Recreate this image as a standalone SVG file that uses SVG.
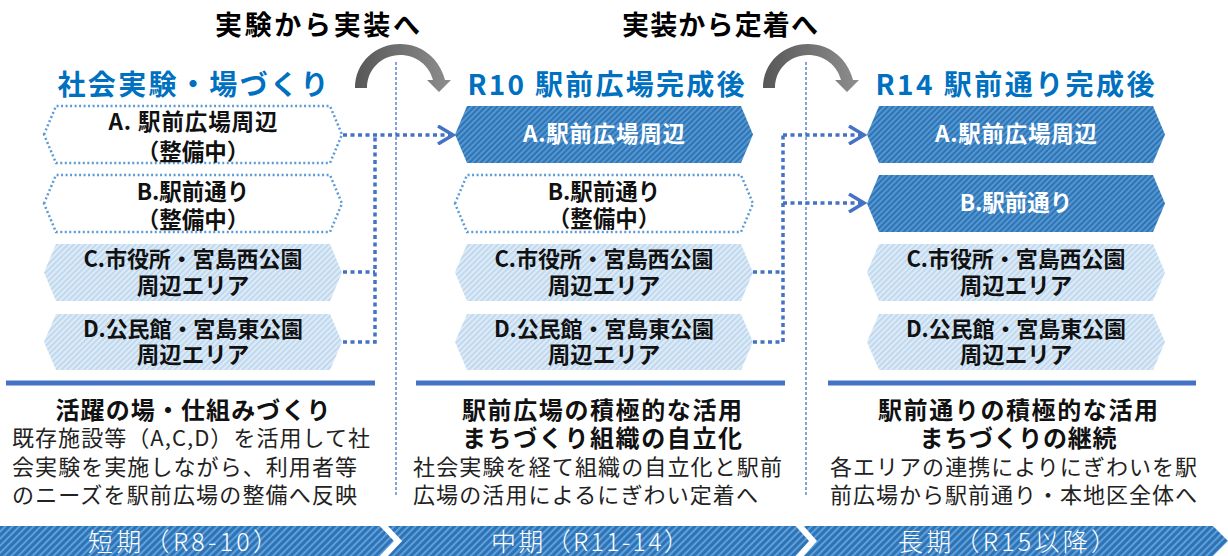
<svg xmlns="http://www.w3.org/2000/svg" width="1228" height="556" viewBox="0 0 1228 556">
<style>
text{font-family:"Noto Sans CJK JP","Noto Sans CJK SC",sans-serif;}
.ttl{font-size:27px;font-weight:700;fill:#000;}
.hd{font-size:28px;font-weight:700;fill:#0070C0;text-anchor:middle;}
.ht{font-size:22.5px;font-weight:700;fill:#111;text-anchor:middle;}
.hc{font-size:22px;font-weight:700;fill:#111;text-anchor:middle;}
.hw{font-size:22.5px;font-weight:700;fill:#fff;text-anchor:middle;}
.bd{font-size:24px;font-weight:700;fill:#111;text-anchor:middle;}
.bt{font-size:22px;font-weight:400;fill:#222;}
.bar{font-size:25px;font-weight:300;fill:#fff;text-anchor:middle;}
.dot{fill:#fff;stroke:#5B9BD5;stroke-width:2.5;stroke-dasharray:2 2.5;}
.dk{fill:url(#dark);}
.lt{fill:url(#light);}
.con{fill:none;stroke:#4472C4;stroke-width:3.5;stroke-dasharray:4 3.5;}
.div{fill:none;stroke:#4472C4;stroke-width:1.3;stroke-dasharray:3 2;}
.rule{stroke:#4472C4;stroke-width:5;}
.garr{fill:url(#gray);}
</style>
<defs>
<pattern id="dark" width="4" height="4" patternUnits="userSpaceOnUse" patternTransform="rotate(45)"><rect width="4" height="4" fill="#2E75B6"/><rect width="1.7" height="4" fill="#5B9BD5"/></pattern>
<pattern id="light" width="4" height="4" patternUnits="userSpaceOnUse" patternTransform="rotate(45)"><rect width="4" height="4" fill="#DEEBF7"/><rect width="1.8" height="4" fill="#BDD7EE"/></pattern>
<pattern id="barp" width="5" height="5" patternUnits="userSpaceOnUse" patternTransform="rotate(45)"><rect width="5" height="5" fill="#2E74B5"/><rect width="2" height="5" fill="#5F9FDB"/></pattern>
<linearGradient id="gray" x1="0" y1="0" x2="1" y2="0"><stop offset="0" stop-color="#575757"/><stop offset="1" stop-color="#8E8E8E"/></linearGradient>
<marker id="chev" viewBox="0 0 20 20" refX="17" refY="10" markerWidth="20" markerHeight="20" markerUnits="userSpaceOnUse" orient="auto"><path d="M2,1 L17,10 L2,19" fill="none" stroke="#4472C4" stroke-width="3.5"/></marker>
</defs>

<g id="titles">
<text class="ttl" x="215" y="35" textLength="205" lengthAdjust="spacing">実験から実装へ</text>
<text class="ttl" x="622" y="35" textLength="196" lengthAdjust="spacing">実装から定着へ</text>
</g>

<g id="transition-arrows">
<path class="garr" d="M355,88 C355,62 376,44 400,44 C423,44 440,60 445,80 L451,80 L439,92 L427,80 L433,80 C429,65 416,55 400,55 C382,55 367,69 367,88 Z"/>
<path class="garr" transform="translate(408,0)" d="M355,88 C355,62 376,44 400,44 C423,44 440,60 445,80 L451,80 L439,92 L427,80 L433,80 C429,65 416,55 400,55 C382,55 367,69 367,88 Z"/>
</g>

<g id="dividers">
<path class="div" d="M396,62 V496"/>
<path class="div" d="M806,62 V496"/>
</g>

<g id="headings">
<text class="hd" x="193" y="95" textLength="271" lengthAdjust="spacing">社会実験・場づくり</text>
<text class="hd" x="606" y="95" textLength="277" lengthAdjust="spacing">R10 駅前広場完成後</text>
<text class="hd" x="1015" y="95" textLength="279" lengthAdjust="spacing">R14 駅前通り完成後</text>
</g>

<g id="col1-A">
<polygon class="dot" points="44,134.5 56,106 330,106 342,134.5 330,163 56,163"/>
<text class="ht" x="193" y="130" textLength="169" lengthAdjust="spacing">A. 駅前広場周辺</text>
<text class="ht" x="193" y="160">（整備中）</text>
</g>
<g id="col1-B">
<polygon class="dot" points="44,203.5 56,175 330,175 342,203.5 330,232 56,232"/>
<text class="ht" x="193" y="200">B.駅前通り</text>
<text class="ht" x="193" y="228">（整備中）</text>
</g>
<g id="col1-C">
<polygon class="lt" points="44,272.5 56,244 330,244 342,272.5 330,301 56,301"/>
<text class="hc" x="193" y="267" textLength="219" lengthAdjust="spacing">C.市役所・宮島西公園</text>
<text class="ht" x="193" y="294">周辺エリア</text>
</g>
<g id="col1-D">
<polygon class="lt" points="44,342 56,314 330,314 342,342 330,370 56,370"/>
<text class="hc" x="193" y="337" textLength="220" lengthAdjust="spacing">D.公民館・宮島東公園</text>
<text class="ht" x="193" y="363">周辺エリア</text>
</g>

<g id="col2-A">
<polygon class="dk" points="455,134.5 467,106 741,106 753,134.5 741,163 467,163"/>
<text class="hw" x="604" y="142" textLength="162" lengthAdjust="spacing">A.駅前広場周辺</text>
</g>
<g id="col2-B">
<polygon class="dot" points="455,203.5 467,175 741,175 753,203.5 741,232 467,232"/>
<text class="ht" x="604" y="200">B.駅前通り</text>
<text class="ht" x="604" y="227">（整備中）</text>
</g>
<g id="col2-C">
<polygon class="lt" points="455,272.5 467,244 741,244 753,272.5 741,301 467,301"/>
<text class="hc" x="604" y="267" textLength="219" lengthAdjust="spacing">C.市役所・宮島西公園</text>
<text class="ht" x="604" y="294">周辺エリア</text>
</g>
<g id="col2-D">
<polygon class="lt" points="455,342 467,314 741,314 753,342 741,370 467,370"/>
<text class="hc" x="604" y="337" textLength="220" lengthAdjust="spacing">D.公民館・宮島東公園</text>
<text class="ht" x="604" y="363">周辺エリア</text>
</g>

<g id="col3-A">
<polygon class="dk" points="867,134.5 879,106 1153,106 1165,134.5 1153,163 879,163"/>
<text class="hw" x="1016" y="142" textLength="162" lengthAdjust="spacing">A.駅前広場周辺</text>
</g>
<g id="col3-B">
<polygon class="dk" points="867,203.5 879,175 1153,175 1165,203.5 1153,232 879,232"/>
<text class="hw" x="1016" y="211">B.駅前通り</text>
</g>
<g id="col3-C">
<polygon class="lt" points="867,272.5 879,244 1153,244 1165,272.5 1153,301 879,301"/>
<text class="hc" x="1016" y="267" textLength="219" lengthAdjust="spacing">C.市役所・宮島西公園</text>
<text class="ht" x="1016" y="294">周辺エリア</text>
</g>
<g id="col3-D">
<polygon class="lt" points="867,342 879,314 1153,314 1165,342 1153,370 879,370"/>
<text class="hc" x="1016" y="337" textLength="220" lengthAdjust="spacing">D.公民館・宮島東公園</text>
<text class="ht" x="1016" y="363">周辺エリア</text>
</g>

<g id="connectors">
<path class="con" d="M343,135 H453" marker-end="url(#chev)"/>
<path class="con" d="M343,272 H375"/>
<path class="con" d="M343,342 H375 V135"/>
<path class="con" d="M783,135 H864" marker-end="url(#chev)"/>
<path class="con" d="M783,203 H864" marker-end="url(#chev)"/>
<path class="con" d="M753,272 H783"/>
<path class="con" d="M753,342 H783 V135"/>
</g>

<g id="rules">
<line class="rule" x1="6" y1="383" x2="375" y2="383"/>
<line class="rule" x1="416" y1="383" x2="785" y2="383"/>
<line class="rule" x1="828" y1="383" x2="1196" y2="383"/>
</g>

<g id="col1-desc">
<text class="bd" x="193" y="419" textLength="275" lengthAdjust="spacing">活躍の場・仕組みづくり</text>
<text class="bt" x="12" y="446" textLength="358" lengthAdjust="spacing">既存施設等（A,C,D）を活用して社</text>
<text class="bt" x="12" y="475" textLength="345" lengthAdjust="spacing">会実験を実施しながら、利用者等</text>
<text class="bt" x="12" y="503" textLength="345" lengthAdjust="spacing">のニーズを駅前広場の整備へ反映</text>
</g>
<g id="col2-desc">
<text class="bd" x="602" y="419" textLength="280" lengthAdjust="spacing">駅前広場の積極的な活用</text>
<text class="bd" x="602" y="447" textLength="280" lengthAdjust="spacing">まちづくり組織の自立化</text>
<text class="bt" x="413" y="475" textLength="369" lengthAdjust="spacing">社会実験を経て組織の自立化と駅前</text>
<text class="bt" x="413" y="503" textLength="345" lengthAdjust="spacing">広場の活用によるにぎわい定着へ</text>
</g>
<g id="col3-desc">
<text class="bd" x="1018" y="419" textLength="280" lengthAdjust="spacing">駅前通りの積極的な活用</text>
<text class="bd" x="1018" y="447" textLength="197" lengthAdjust="spacing">まちづくりの継続</text>
<text class="bt" x="830" y="475" textLength="367" lengthAdjust="spacing">各エリアの連携によりにぎわいを駅</text>
<text class="bt" x="830" y="503" textLength="367" lengthAdjust="spacing">前広場から駅前通り・本地区全体へ</text>
</g>

<g id="timeline">
<polygon points="0,526 1213,526 1228,541 1213,556 0,556" fill="url(#barp)"/>
<polyline points="381,523 398,541 381,559" fill="none" stroke="#fff" stroke-width="6"/>
<polyline points="797,523 813,541 797,559" fill="none" stroke="#fff" stroke-width="6"/>
<text class="bar" x="183" y="551" textLength="190" lengthAdjust="spacing">短期（R8-10）</text>
<text class="bar" x="590" y="551" textLength="198" lengthAdjust="spacing">中期（R11-14）</text>
<text class="bar" x="1007" y="551" textLength="218" lengthAdjust="spacing">長期（R15以降）</text>
</g>
</svg>
